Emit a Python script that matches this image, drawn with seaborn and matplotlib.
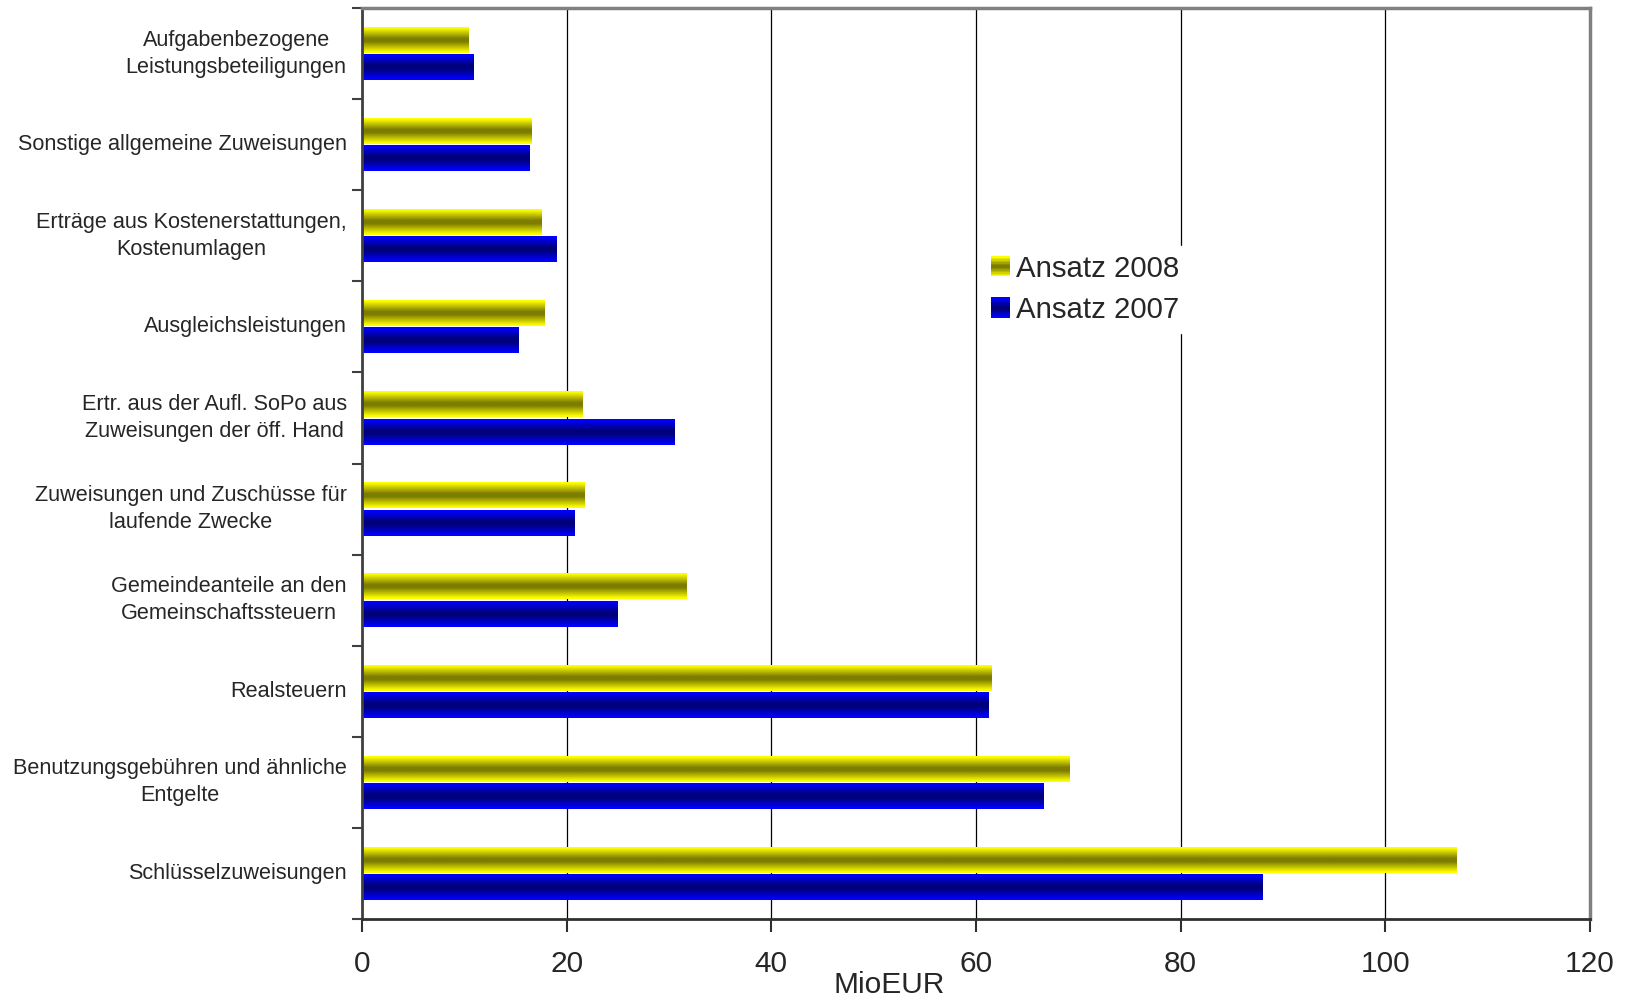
import numpy as np
import pandas as pd
import matplotlib
matplotlib.use("Agg")
import matplotlib.pyplot as plt
import seaborn as sns
from matplotlib.patches import Patch, Rectangle
from matplotlib.legend_handler import HandlerBase
from matplotlib.colors import to_rgb

categories = [
    "Aufgabenbezogene\nLeistungsbeteiligungen",
    "Sonstige allgemeine Zuweisungen",
    "Erträge aus Kostenerstattungen,\nKostenumlagen",
    "Ausgleichsleistungen",
    "Ertr. aus der Aufl. SoPo aus\nZuweisungen der öff. Hand",
    "Zuweisungen und Zuschüsse für\nlaufende Zwecke",
    "Gemeindeanteile an den\nGemeinschaftssteuern",
    "Realsteuern",
    "Benutzungsgebühren und ähnliche\nEntgelte",
    "Schlüsselzuweisungen",
]
ansatz_2008 = [10.4, 16.6, 17.5, 17.8, 21.5, 21.7, 31.7, 61.5, 69.1, 107.0]
ansatz_2007 = [10.9, 16.4, 19.0, 15.3, 30.5, 20.8, 25.0, 61.2, 66.6, 88.0]
series_names = ["Ansatz 2008", "Ansatz 2007"]
x_ticks = [0, 20, 40, 60, 80, 100, 120]

df = pd.DataFrame({
    "Kategorie": categories * 2,
    "Wert": ansatz_2008 + ansatz_2007,
    "Serie": [series_names[0]] * len(categories) + [series_names[1]] * len(categories),
})

grad = {
    "Ansatz 2008": ("#FFFF00", "#7C7C00"),
    "Ansatz 2007": ("#0000FF", "#00007A"),
}

def profile(t):
    tri = 1 - np.abs(2 * t - 1)
    return np.clip((tri - 0.08) / 0.80, 0, 1)

def grad_colors(edge, mid, n):
    e = np.array(to_rgb(edge)); m = np.array(to_rgb(mid))
    t = (np.arange(n) + 0.5) / n
    f = profile(t)[:, None]
    return e + (m - e) * f

sns.set_style("white")
plt.rcParams["font.family"] = ["Liberation Sans", "DejaVu Sans"]

fig = plt.figure(figsize=(16.26, 9.99), dpi=100)
ax = fig.add_axes([362 / 1626, 1 - 919 / 999, 1228 / 1626, 911 / 999])

sns.barplot(data=df, x="Wert", y="Kategorie", hue="Serie", hue_order=series_names,
            order=categories, orient="h", width=0.6, gap=0.05,
            palette=[grad[s][0] for s in series_names], ax=ax, legend=False,
            edgecolor="none", saturation=1)

# gradient fill for each bar
for name, cont in zip(series_names, ax.containers):
    cols = grad_colors(*grad[name], 64)
    img = cols[:, None, :]
    for p in cont.patches:
        x0, y0, w, h = p.get_x(), p.get_y(), p.get_width(), p.get_height()
        ax.imshow(img, extent=[x0, x0 + w, y0 + h, y0], aspect="auto",
                  interpolation="bilinear", zorder=2)
        p.set_alpha(0)

ax.set_xlim(0, 120)
ax.set_ylim(len(categories) - 0.5, -0.5)
ax.set_xticks(x_ticks)
ax.set_xticklabels([str(v) for v in x_ticks], fontsize=21.5)
ax.tick_params(axis="x", direction="out", length=9, width=1.5, color="#303030", pad=13,
               bottom=True)

ax.set_yticks(range(len(categories)))
ax.set_yticklabels(categories, fontsize=15.6, multialignment="center", linespacing=1.38,
                   va="center")
ax.tick_params(axis="y", which="major", length=0, pad=11)
ax.set_yticks(np.arange(-0.5, len(categories) + 0.5, 1), minor=True)
ax.tick_params(axis="y", which="minor", direction="out", length=7, width=1.5,
               color="#404040", left=True)

ax.set_xlabel("MioEUR", fontsize=21.5)
ax.xaxis.label.set_va("center")
ax.xaxis.set_label_coords((889 - 362) / 1228, (919 - 985) / 911)
ax.set_ylabel("")

ax.grid(axis="x", color="black", linewidth=0.9)
ax.grid(axis="y", visible=False)
ax.set_axisbelow(True)

for side in ["top", "right"]:
    ax.spines[side].set_color("#808080")
    ax.spines[side].set_linewidth(2.5)
ax.spines["left"].set_color("#404040")
ax.spines["left"].set_linewidth(2)
ax.spines["bottom"].set_color("#303030")
ax.spines["bottom"].set_linewidth(2)
for s in ax.spines.values():
    s.set_visible(True)
    s.set_zorder(5)


class GradHandler(HandlerBase):
    def __init__(self, edge, mid):
        super().__init__()
        self.edge, self.mid = edge, mid

    def create_artists(self, legend, orig_handle, xdescent, ydescent, width, height,
                       fontsize, trans):
        n = 14
        cols = grad_colors(self.edge, self.mid, n)
        arts = []
        for i in range(n):
            r = Rectangle((-xdescent, -ydescent + i * height / n), width, height / n + 0.3,
                          facecolor=cols[i], edgecolor="none", transform=trans)
            arts.append(r)
        return arts


handles = [Patch(label=s) for s in series_names]
hmap = {h: GradHandler(*grad[s]) for h, s in zip(handles, series_names)}
leg = ax.legend(handles=handles, labels=series_names, handler_map=hmap,
                loc="upper left", bbox_to_anchor=(982 / 1626, 1 - 246 / 999),
                bbox_transform=fig.transFigure, fontsize=21.2, frameon=True,
                fancybox=False, framealpha=1, edgecolor="white",
                handlelength=0.66, handleheight=0.66, handletextpad=0.2,
                labelspacing=0.45, borderpad=0.3, borderaxespad=0)
leg.set_zorder(6)

fig.savefig("out.png", dpi=100, facecolor="white")
